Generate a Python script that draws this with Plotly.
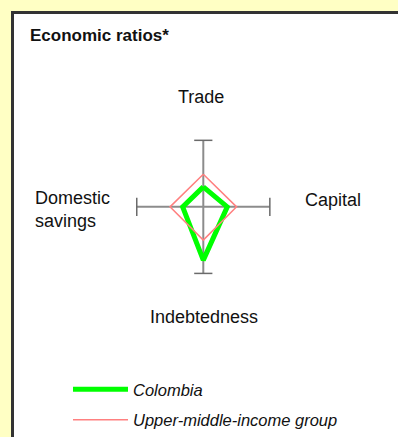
import plotly.graph_objects as go

# Radar categories, clockwise from the top
categories = ['Trade', 'Capital', 'Indebtedness', 'Domestic<br>savings']
colombia = [0.30, 0.36, 0.80, 0.31]
upper_middle = [0.49, 0.50, 0.50, 0.50]

W, H = 398, 437
FONT = 'Arial, Liberation Sans, sans-serif'


def closed(vals):
    return list(vals) + [vals[0]]


fig = go.Figure()

# tick caps at the end of every spoke
fig.add_trace(go.Scatterpolar(
    r=[1] * len(categories), theta=categories, mode='markers',
    marker=dict(symbol=['line-ew', 'line-ns', 'line-ew', 'line-ns'], size=13,
                line=dict(color='#6a6a6a', width=1.5)),
    showlegend=False, hoverinfo='skip'))

fig.add_trace(go.Scatterpolar(
    r=closed(colombia), theta=closed(categories), mode='lines', name='Colombia',
    line=dict(color='#00ff00', width=5), legendgroup='a'))
fig.add_trace(go.Scatterpolar(
    r=closed(upper_middle), theta=closed(categories), mode='lines',
    name='Upper-middle-income group', legendgroup='b',
    line=dict(color='#ff8080', width=1.5)))

cx, cy, rad = 203.3, 208.3, 67
fig.update_layout(
    width=W, height=H, margin=dict(l=0, r=0, t=0, b=0),
    paper_bgcolor='#ffffc4', font=dict(family=FONT, color='#111111'),
    polar=dict(
        domain=dict(x=[(cx - rad) / W, (cx + rad) / W],
                    y=[1 - (cy + rad) / H, 1 - (cy - rad) / H]),
        bgcolor='rgba(0,0,0,0)',
        radialaxis=dict(range=[0, 1], visible=False, showgrid=False),
        angularaxis=dict(direction='clockwise', rotation=90,
                         showline=False, showticklabels=False, ticks='',
                         showgrid=True, gridcolor='#8c8c8c', gridwidth=1.5)),
    legend=dict(x=68 / W, y=1 - 375 / H, xanchor='left', yanchor='top',
                bgcolor='rgba(0,0,0,0)', itemwidth=55, tracegroupgap=6,
                font=dict(size=16.5, style='italic', family=FONT)),
    shapes=[dict(type='rect', xref='paper', yref='paper', layer='below',
                 x0=12.5 / W, x1=1.1, y0=-0.1, y1=1 - 12.5 / H,
                 fillcolor='white', line=dict(color='#333333', width=3))],
)

annotations = [
    dict(text='<b>Economic ratios*</b>', x=28 / W, y=1 - 36 / H, xanchor='left',
         yanchor='middle', font=dict(size=17)),
]
label_pos = [(201, 98, 'center', 'center'), (303, 201, 'left', 'left'),
             (204, 319, 'center', 'center'), (33, 211, 'left', 'left')]
for cat, (px_, py_, xa, al) in zip(categories, label_pos):
    annotations.append(dict(text=cat, x=px_ / W, y=1 - py_ / H, xanchor=xa,
                            yanchor='middle', align=al, font=dict(size=18)))
for a in annotations:
    a.update(xref='paper', yref='paper', showarrow=False)
fig.update_layout(annotations=annotations)

# drop the browser's default 8px body margin so the figure fills the window
fig.write_html('out.html', config={'displayModeBar': False},
               post_script="document.body.style.margin='0';")
